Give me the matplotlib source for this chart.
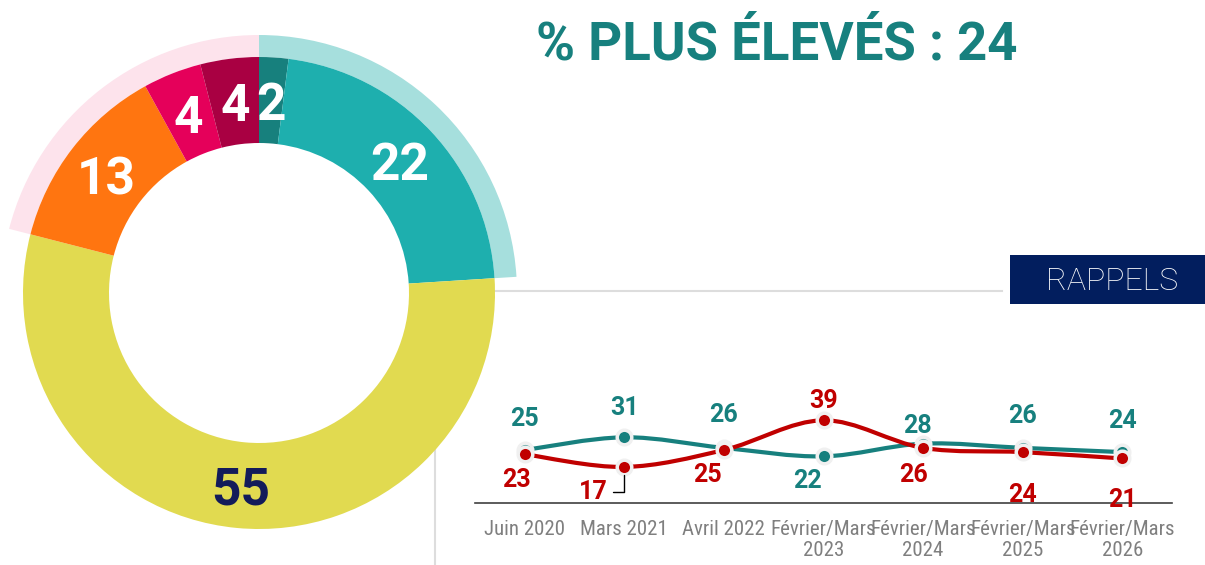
import matplotlib
matplotlib.use('Agg')
import matplotlib.pyplot as plt
from matplotlib import font_manager
from matplotlib.path import Path
from matplotlib.patches import PathPatch, Rectangle
import numpy as np

# donut, clockwise from the top
parts = [2, 22, 55, 13, 4, 4]
part_colors = ['#17807D', '#1EAFAE', '#E1DA50', '#FF7510', '#E5005A', '#A90042']
part_text = ['white', 'white', '#131B5A', 'white', 'white', 'white']
# outer ring: plus élevés / reste / moins élevés
groups = [24, 55, 21]
group_colors = ['#A6DFDD', 'none', '#FDE3EC']

title = '% PLUS ÉLEVÉS : 24'

periods = ['Juin 2020', 'Mars 2021', 'Avril 2022', 'Février/Mars\n2023',
           'Février/Mars\n2024', 'Février/Mars\n2025', 'Février/Mars\n2026']
plus_eleves = [25, 31, 26, 22, 28, 26, 24]
moins_eleves = [23, 17, 25, 39, 26, 24, 21]

TEAL = '#17807E'
RED = '#C00000'
bold = ['Roboto', 'DejaVu Sans']

# pick a condensed face for the tick labels if one is around
names = {f.name for f in font_manager.fontManager.ttflist}
narrow = [n for n in ['Roboto Condensed', 'Liberation Sans Narrow', 'DejaVu Sans Condensed']
          if n in names] + ['Roboto']
tick_size = 15 if narrow[0] != 'Roboto' else 12.5

# label offsets in pixels (label centre relative to point)
teal_off = [(0, 33), (0, 32), (0, 35), (-16, -22), (-6, 20), (0, 34), (0, 34)]
red_off = [(-8, -23), (-31, -23), (-16, -23), (0, 22), (-10, -25), (0, -40), (0, -39)]


def smooth_path(xs, ys):
    pts = np.column_stack([xs, ys]).astype(float)
    n = len(pts)
    verts = [pts[0]]
    codes = [Path.MOVETO]
    for i in range(n - 1):
        p0 = pts[max(i - 1, 0)]
        p1 = pts[i]
        p2 = pts[i + 1]
        p3 = pts[min(i + 2, n - 1)]
        verts += [p1 + (p2 - p0) / 6, p2 - (p3 - p1) / 6, p2]
        codes += [Path.CURVE4] * 3
    return Path(verts, codes)


fig = plt.figure(figsize=(12.05, 5.65), dpi=100)

# background: separators, title, box
bg = fig.add_axes([0, 0, 1, 1], zorder=0)
bg.set_xlim(0, 1205)
bg.set_ylim(565, 0)
bg.axis('off')
bg.plot([435, 1002], [291, 291], color='#DDDDDD', lw=1.5)
bg.plot([435, 435], [291, 565], color='#DDDDDD', lw=1.5)
bg.add_patch(Rectangle((1010, 255), 195, 49, color='#021E5E', lw=0))
bg.text(1112, 281, 'RAPPELS', color='white', fontsize=23, fontweight='light',
        family=bold, ha='center', va='center')
bg.text(777, 60, title, color=TEAL, fontsize=38, fontweight='bold',
        family=bold, ha='center', va='baseline')

# donut
pie_ax = fig.add_axes([0, 0, 1, 1], zorder=1)
cx, cy = 259, 565 - 293
r_out, r_in, r_ring = 236, 150, 258
pie_ax.pie(groups, colors=group_colors, startangle=90, counterclock=False,
           radius=r_ring, center=(cx, cy),
           wedgeprops=dict(width=r_ring - r_out, linewidth=0))
wedges, _ = pie_ax.pie(parts, colors=part_colors, startangle=90, counterclock=False,
                       radius=r_out, center=(cx, cy),
                       wedgeprops=dict(width=r_out - r_in, linewidth=0))
r_mid = (r_out + r_in) / 2
for w, v, c in zip(wedges, parts, part_text):
    a = np.deg2rad((w.theta1 + w.theta2) / 2)
    pie_ax.text(cx + r_mid * np.cos(a), cy + r_mid * np.sin(a), str(v),
                color=c, fontsize=37, fontweight='bold', family=bold,
                ha='center', va='center_baseline')
pie_ax.set_xlim(0, 1205)
pie_ax.set_ylim(0, 565)
pie_ax.set_aspect('equal')
pie_ax.axis('off')

# trend chart
ax = fig.add_axes([475 / 1205, 62 / 565, 697 / 1205, 212 / 565], zorder=2)
ax.patch.set_visible(False)
x = np.arange(len(periods))
ax.set_xlim(-0.5, len(periods) - 0.5)
ax.set_ylim(0, 100)
for s in ['top', 'left', 'right']:
    ax.spines[s].set_visible(False)
ax.spines['bottom'].set_color('#404040')
ax.spines['bottom'].set_linewidth(1.2)
ax.set_yticks([])
ax.set_xticks(x, periods, family=narrow, fontsize=tick_size, color='#7F7F7F',
              linespacing=1.15)
ax.tick_params(axis='x', length=0, pad=12)

halo = '#F0F0F0'
ax.add_patch(PathPatch(smooth_path(x, plus_eleves), fill=False, color=TEAL,
                       lw=3, capstyle='round', zorder=3))
ax.plot(x, plus_eleves, 'o', ms=10.5, mfc=TEAL, mec=halo, mew=2.5, zorder=4)
ax.add_patch(PathPatch(smooth_path(x, moins_eleves), fill=False, color=RED,
                       lw=3, capstyle='round', zorder=5))
ax.plot(x, moins_eleves, 'o', ms=10.5, mfc=RED, mec=halo, mew=2.5, zorder=6)

px = 0.72  # points per pixel
for i, v in enumerate(plus_eleves):
    dx, dy = teal_off[i]
    ax.annotate(str(v), (i, v), xytext=(dx * px, dy * px), textcoords='offset points',
                color=TEAL, fontsize=18, fontweight='bold', family=bold,
                ha='center', va='center_baseline', zorder=7)
for i, v in enumerate(moins_eleves):
    dx, dy = red_off[i]
    arrow = None
    if v == min(moins_eleves):
        arrow = dict(arrowstyle='-', color='black', lw=1,
                     connectionstyle='angle,angleA=0,angleB=90',
                     shrinkA=2, shrinkB=6, relpos=(1, 0.5))
    ax.annotate(str(v), (i, v), xytext=(dx * px, dy * px), textcoords='offset points',
                color=RED, fontsize=18, fontweight='bold', family=bold,
                ha='center', va='center_baseline', arrowprops=arrow, zorder=7)

fig.savefig('out.png', dpi=100)
